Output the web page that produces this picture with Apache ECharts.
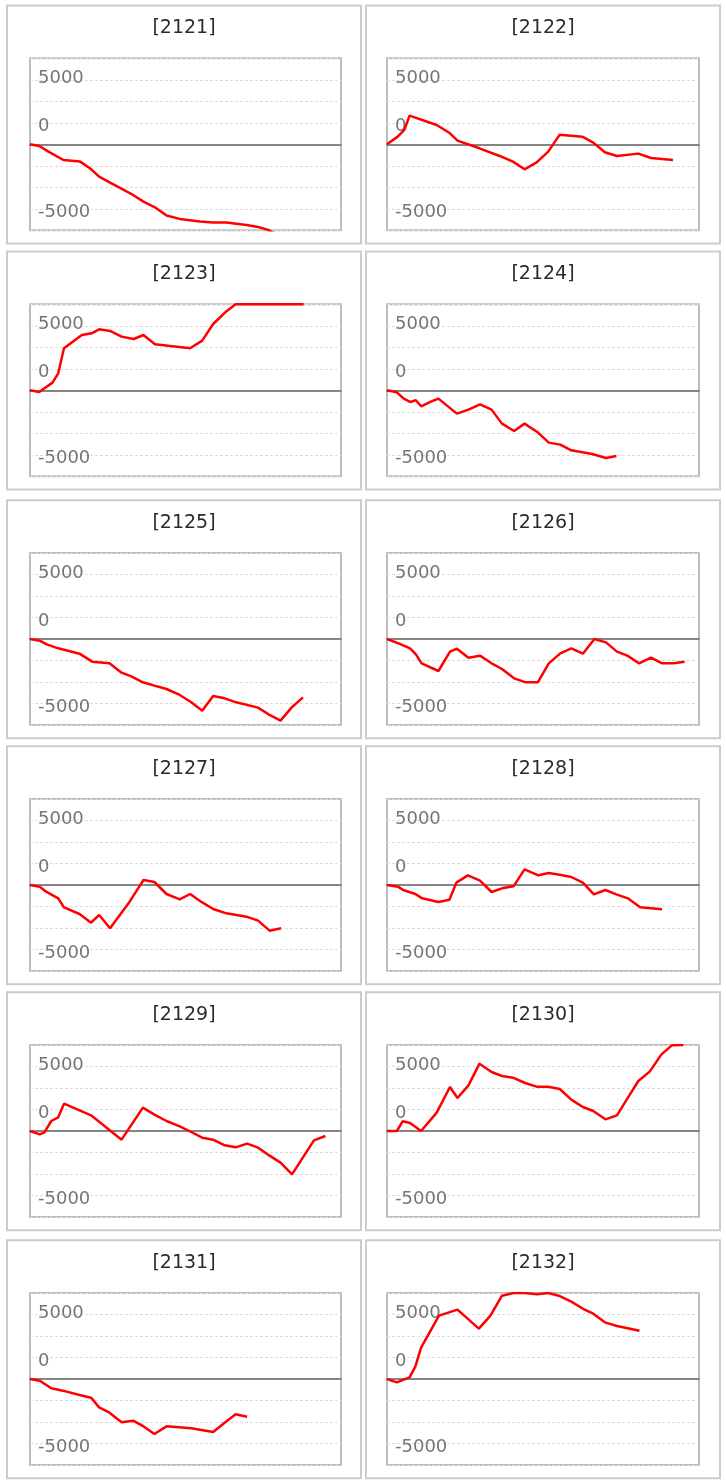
<!DOCTYPE html>
<html>
<head>
<meta charset="utf-8">
<script src="https://cdn.jsdelivr.net/npm/echarts@6/dist/echarts.min.js"></script>
<style>
html,body{margin:0;padding:0;background:#fff;}
#c{width:726px;height:1483px;}
</style>
</head>
<body>
<div id="c"></div>
<script>
// ---- data ----
const codes = ['2121','2122','2123','2124','2125','2126','2127','2128','2129','2130','2131','2132'];

const x2121 = [0,1.6,3.2,5.8,8.7,10.4,12.0,13.9,17.9,19.7,21.7,23.7,26.0,29.5,31.8,34.1,37.6,39.4,41.4,43.5];
const v2121 = [0,-155,-680,-1460,-1610,-2230,-3010,-3565,-4710,-5330,-5860,-6630,-6940,-7190,-7285,-7285,-7500,-7660,-7970,-8600];

const x2122 = [0,1.85,3.0,3.9,8.6,10.9,12.2,16.0,19.5,21.8,23.8,25.9,27.9,29.9,33.8,35.7,37.7,39.8,43.5,45.7,49.5];
const v2122 = [0,713,1333,2666,1800,1023,341,-372,-1085,-1612,-2325,-1674,-682,899,713,155,-744,-1085,-868,-1271,-1457];

const x2123 = [0,1.6,3.9,4.9,5.9,9.0,10.7,12.0,13.9,15.9,18.0,19.7,21.7,27.8,29.9,31.8,33.9,35.7,37.7,39.7,41.7,43.7,45.7,47.5];
const v2123 = [0,-155,713,1581,3906,5146,5301,5673,5518,4991,4774,5146,4278,3906,4619,6169,7254,8000,8000,8000,8000,8000,8000,8000];

const x2124 = [0,1.7,2.9,4.0,5.0,5.9,7.5,8.9,12.1,14.1,16.1,18.1,19.9,22.0,23.8,26.0,28.0,30.0,31.9,35.5,37.9,39.7];
const v2124 = [0,-186,-775,-1085,-930,-1488,-1085,-775,-2170,-1798,-1302,-1798,-3100,-3782,-3100,-3875,-4867,-5053,-5580,-5921,-6293,-6107];

const x2125 = [0,1.7,2.9,4.9,8.6,10.8,13.8,15.9,17.6,19.6,21.6,23.7,26.0,28.0,29.9,31.8,33.8,35.8,39.6,41.6,43.5,45.4,47.4];
const v2125 = [0,-155,-496,-868,-1364,-2108,-2263,-3131,-3472,-4030,-4340,-4650,-5208,-5890,-6665,-5301,-5518,-5890,-6386,-7068,-7595,-6386,-5425];

const x2126 = [0,2.0,4.0,5.0,6.0,8.9,10.9,12.1,14.1,16.1,18.1,19.9,22.0,24.0,26.1,28.0,30.0,31.9,33.9,35.9,37.9,39.8,41.6,43.6,45.7,47.6,49.6,51.5];
const v2126 = [0,-403,-868,-1426,-2263,-2976,-1178,-899,-1736,-1550,-2263,-2790,-3658,-4030,-4030,-2263,-1333,-868,-1364,0,-310,-1178,-1550,-2263,-1736,-2263,-2263,-2108];

const x2127 = [0,1.7,2.8,4.9,5.9,8.6,10.6,12.0,13.9,17.3,19.7,21.6,23.7,26.0,27.8,29.7,31.8,34.1,37.6,39.6,41.6,43.6];
const v2127 = [0,-155,-620,-1240,-2077,-2697,-3503,-2790,-4030,-1550,465,279,-837,-1333,-837,-1550,-2232,-2635,-2945,-3317,-4247,-4030];

const x2128 = [0,1.9,2.8,4.9,6.1,8.9,10.8,12.0,14.0,16.1,18.1,19.9,21.9,23.8,26.2,28.0,29.9,31.9,33.9,35.8,37.8,39.7,41.7,43.8,47.6];
const v2128 = [0,-155,-465,-837,-1240,-1581,-1364,217,899,403,-651,-310,-124,1457,899,1116,961,744,217,-868,-465,-868,-1240,-2077,-2263];

const x2129 = [0,1.7,2.5,3.7,4.9,5.9,10.6,15.9,19.6,21.6,23.7,26.0,28.0,29.9,31.8,33.8,35.7,37.7,39.6,41.6,43.5,45.5,49.3,51.3];
const v2129 = [0,-310,-124,930,1271,2542,1457,-806,2170,1519,930,434,-93,-620,-806,-1333,-1519,-1178,-1550,-2294,-2945,-4030,-868,-465];

const x2130 = [0,1.7,2.7,4.0,5.9,8.6,10.9,12.2,14.1,16.0,18.1,19.9,21.8,23.9,25.9,27.9,29.9,31.9,33.9,35.7,37.8,39.8,41.7,43.5,45.5,47.5,49.3,51.3];
const v2130 = [0,0,899,744,0,1705,4092,3069,4247,6262,5487,5115,4960,4464,4123,4123,3906,2914,2232,1860,1085,1457,3100,4650,5549,7130,7967,8000];

const x2131 = [0,1.7,3.7,5.7,8.6,10.6,12.0,13.8,15.9,17.9,19.8,21.6,23.7,28.0,31.8,33.8,35.7,37.7];
const v2131 = [0,-155,-868,-1085,-1488,-1736,-2635,-3131,-4030,-3875,-4433,-5115,-4402,-4588,-4929,-4061,-3286,-3503];

const x2132 = [0,1.7,3.9,4.9,5.9,9.0,12.2,15.9,17.9,19.9,21.9,23.8,26.0,27.9,29.9,31.9,34.0,35.7,37.7,39.8,43.7];
const v2132 = [0,-310,155,1147,2914,5890,6448,4681,5890,7750,8000,8000,7874,8000,7719,7192,6510,6076,5270,4929,4495];

const xs = [x2121,x2122,x2123,x2124,x2125,x2126,x2127,x2128,x2129,x2130,x2131,x2132];
const vs = [v2121,v2122,v2123,v2124,v2125,v2126,v2127,v2128,v2129,v2130,v2131,v2132];

// y-axis tick labels as shown in the picture (tick value -> text)
const yLabelTicks = [6000, 2000, -6000];
const yLabelTexts = ['5000', '0', '-5000'];

// ---- layout ----
const colPlotLeft = [30, 387];
const colPlotWidth = [311, 312];
const colPanelLeft = [7, 366];
const panelWidth = 354;
const rowZero = [144.3, 390.3, 639, 885, 1131, 1379];

const chart = echarts.init(document.getElementById('c'), null, {renderer: 'canvas'});

const labelFont = {color: '#767676', fontSize: 18, fontFamily: 'DejaVu Sans'};

const grid = [], xAxis = [], yAxis = [], series = [], title = [], graphic = [];
codes.forEach((code, i) => {
  const col = i % 2, row = Math.floor(i / 2);
  const zero = rowZero[row];
  grid.push({
    left: colPlotLeft[col], top: zero - 86, width: colPlotWidth[col], height: 172,
    show: true, borderColor: '#bdbdbd', borderWidth: 2, backgroundColor: 'transparent'
  });
  xAxis.push({
    type: 'value', gridIndex: i, min: 0, max: 54,
    axisLine: {show: true, onZero: true, lineStyle: {color: '#858585', width: 2}},
    axisTick: {show: false}, axisLabel: {show: false}, splitLine: {show: false}
  });
  yAxis.push({
    type: 'value', gridIndex: i, min: -8000, max: 8000, interval: 2000,
    axisLine: {show: false}, axisTick: {show: false},
    splitLine: {show: true, lineStyle: {color: '#dcdcdc', type: [3, 2], width: 1}},
    axisLabel: Object.assign({
      inside: true, margin: 8,
      formatter: function (v) {
        const k = yLabelTicks.indexOf(v);
        if (k < 0) return '';
        return (k === 0 ? '{up|' : '{dn|') + yLabelTexts[k] + '}';
      },
      rich: {
        up: Object.assign({padding: [0, 0, 3, 0]}, labelFont),
        dn: Object.assign({padding: [7, 0, 0, 0]}, labelFont)
      }
    }, labelFont)
  });
  series.push({
    type: 'line', xAxisIndex: i, yAxisIndex: i,
    data: xs[i].map((x, j) => [x, vs[i][j]]),
    showSymbol: false, symbol: 'none', smooth: false,
    lineStyle: {color: '#ff0000', width: 2.5}, itemStyle: {color: '#ff0000'},
    z: 5
  });
  const panelTop = zero - 138.8;
  title.push({
    text: '[' + code + ']',
    left: colPanelLeft[col] + panelWidth / 2, top: zero - 125.5, textAlign: 'center',
    padding: 0,
    textStyle: {fontFamily: 'DejaVu Sans', fontSize: 19, fontWeight: 'normal', color: '#2b2b2b'}
  });
  graphic.push({
    type: 'rect', z: -10,
    shape: {x: colPanelLeft[col], y: panelTop, width: panelWidth, height: 238},
    style: {fill: 'none', stroke: '#cccccc', lineWidth: 2}
  });
});

chart.setOption({
  animation: false,
  backgroundColor: '#fff',
  title, grid, xAxis, yAxis, series, graphic
});
</script>
</body>
</html>
